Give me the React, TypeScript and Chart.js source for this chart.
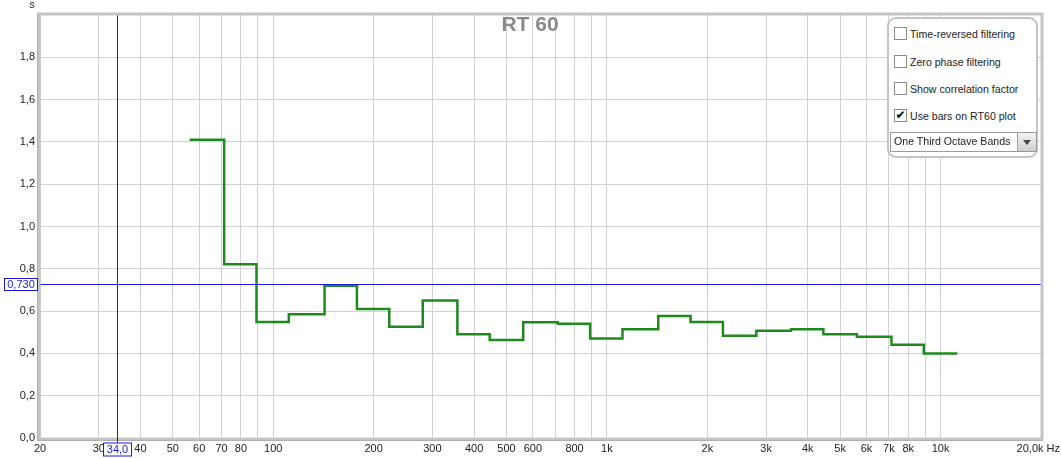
import React, { useEffect, useRef } from 'react';
import { Chart, registerables } from 'chart.js';

Chart.register(...registerables);

// One-third octave band centres (Hz) and measured RT60 (s)
const bandCenters = [63, 80, 100, 125, 160, 200, 250, 315, 400, 500, 630, 800, 1000, 1250, 1600, 2000, 2500, 3150, 4000, 5000, 6300, 8000, 10000];
const rt60Values = [1.41, 0.822, 0.548, 0.585, 0.72, 0.61, 0.526, 0.65, 0.49, 0.463, 0.547, 0.54, 0.471, 0.514, 0.577, 0.548, 0.484, 0.507, 0.514, 0.49, 0.479, 0.441, 0.399];

const yTickValues = [0, 0.2, 0.4, 0.6, 0.8, 1.0, 1.2, 1.4, 1.6, 1.8];
const xGridValues = [20, 30, 40, 50, 60, 70, 80, 90, 100, 200, 300, 400, 500, 600, 700, 800, 900, 1000, 2000, 3000, 4000, 5000, 6000, 7000, 8000, 9000, 10000, 20000];
const xLabelValues = [20, 30, 40, 50, 60, 70, 80, 100, 200, 300, 400, 500, 600, 800, 1000, 2000, 3000, 4000, 5000, 6000, 7000, 8000, 10000, 20000];

const cursorFreq = 34.0;
const cursorRt = 0.73;

const chartTitle = 'RT 60';
const yUnit = 's';
const legendOptions = ['Time-reversed filtering', 'Zero phase filtering', 'Show correlation factor', 'Use bars on RT60 plot'];
const legendChecked = [false, false, false, true];
const bandMode = 'One Third Octave Bands';

const FONT = '11px Arial, "Liberation Sans", sans-serif';
const CURSOR_COLOR = '#1a1ae0';

function fmtX(v: number): string {
  if (v === 20000) return '20,0k Hz';
  if (v >= 1000) return v / 1000 + 'k';
  return String(v);
}

const overlayPlugin = {
  id: 'overlay',
  beforeDatasetsDraw(chart: any) {
    const ctx = chart.ctx;
    ctx.save();
    ctx.fillStyle = '#8a8a8a';
    ctx.font = 'bold 21px Arial, "Liberation Sans", sans-serif';
    ctx.textAlign = 'center';
    ctx.textBaseline = 'middle';
    ctx.fillText(chartTitle, 530, 25);
    ctx.restore();
  },
  afterDraw(chart: any) {
    const ctx = chart.ctx;
    const xs = chart.scales.x;
    const ys = chart.scales.y;
    const a = chart.chartArea;
    ctx.save();
    const cx = Math.round(xs.getPixelForValue(cursorFreq)) + 0.5;
    const cy = Math.round(ys.getPixelForValue(cursorRt)) + 0.5;
    ctx.strokeStyle = CURSOR_COLOR;
    ctx.lineWidth = 1;
    ctx.beginPath();
    ctx.moveTo(cx, a.top);
    ctx.lineTo(cx, a.bottom + 5);
    ctx.stroke();
    ctx.beginPath();
    ctx.moveTo(a.left - 3, cy);
    ctx.lineTo(a.right, cy);
    ctx.stroke();

    // frame
    ctx.strokeStyle = '#c4c4c4';
    ctx.lineWidth = 3;
    ctx.strokeRect(a.left - 1, a.top - 1, a.right - a.left + 2, a.bottom - a.top + 2);
    ctx.strokeStyle = '#b0b0b0';
    ctx.lineWidth = 1;
    ctx.beginPath();
    ctx.moveTo(a.left - 2.5, a.top - 2);
    ctx.lineTo(a.left - 2.5, a.bottom + 2.5);
    ctx.lineTo(a.right + 2, a.bottom + 2.5);
    ctx.stroke();
    ctx.strokeStyle = CURSOR_COLOR;
    ctx.beginPath();
    ctx.moveTo(cx, a.bottom - 1);
    ctx.lineTo(cx, a.bottom + 5);
    ctx.stroke();

    ctx.font = FONT;
    ctx.fillStyle = '#222';
    ctx.textAlign = 'right';
    ctx.textBaseline = 'middle';
    yTickValues.forEach((v) => {
      ctx.fillText(v.toFixed(1).replace('.', ','), 35, ys.getPixelForValue(v));
    });
    ctx.textAlign = 'center';
    ctx.fillText(yUnit, 32, 5);
    xLabelValues.forEach((v) => {
      const px = xs.getPixelForValue(v);
      if (v === 20000) {
        ctx.textAlign = 'right';
        ctx.fillText(fmtX(v), 1060, 449);
      } else {
        ctx.textAlign = 'center';
        ctx.fillText(fmtX(v), px, 449);
      }
    });
    const xl = cursorFreq.toFixed(1).replace('.', ',');
    const yl = cursorRt.toFixed(3).replace('.', ',');
    ctx.strokeStyle = CURSOR_COLOR;
    ctx.lineWidth = 1;
    const bw = 28;
    ctx.fillStyle = '#fff';
    ctx.fillRect(cx - bw / 2, 443, bw, 13);
    ctx.strokeRect(cx - bw / 2, 443, bw, 13);
    ctx.fillStyle = CURSOR_COLOR;
    ctx.textAlign = 'center';
    ctx.fillText(xl, cx, 450);
    ctx.fillStyle = '#fff';
    ctx.fillRect(4.5, cy - 6, 33, 12);
    ctx.strokeRect(4.5, cy - 6, 33, 12);
    ctx.fillStyle = CURSOR_COLOR;
    ctx.fillText(yl, 21, cy + 0.5);
    ctx.restore();
  },
};

export default function App() {
  const canvasRef = useRef<HTMLCanvasElement | null>(null);

  useEffect(() => {
    if (!canvasRef.current) return;
    const edges = bandCenters.map((c) => c * Math.pow(2, -1 / 6));
    const pts = bandCenters.map((c, i) => ({ x: edges[i], y: rt60Values[i] }));
    const last = bandCenters.length - 1;
    pts.push({ x: bandCenters[last] * Math.pow(2, 1 / 6), y: rt60Values[last] });

    const chart = new Chart(canvasRef.current, {
      type: 'line',
      data: {
        datasets: [
          {
            data: pts,
            stepped: 'before',
            borderColor: '#1e8a1e',
            borderWidth: 2.5,
            pointRadius: 0,
            fill: false,
          },
        ],
      },
      options: {
        animation: false,
        responsive: false,
        maintainAspectRatio: false,
        layout: { padding: { left: 40, right: 20, top: 15, bottom: 21 } },
        plugins: { legend: { display: false }, tooltip: { enabled: false } },
        scales: {
          x: {
            type: 'logarithmic',
            min: 20,
            max: 20000,
            afterBuildTicks: (s: any) => {
              s.ticks = xGridValues.map((v) => ({ value: v }));
            },
            ticks: { display: false },
            grid: { color: '#d2d2d2', drawTicks: false, lineWidth: 1 },
            border: { display: false },
          },
          y: {
            min: 0,
            max: 2,
            afterBuildTicks: (s: any) => {
              s.ticks = yTickValues.map((v) => ({ value: v }));
            },
            ticks: { display: false },
            grid: { color: '#d2d2d2', drawTicks: false, lineWidth: 1 },
            border: { display: false },
          },
        },
      },
      plugins: [overlayPlugin],
    } as any);
    return () => chart.destroy();
  }, []);

  const rowTops = [27, 55, 82, 109];

  return (
    <div style={{ position: 'fixed', left: 0, top: 0, width: 1061, height: 459, background: '#fff', fontFamily: 'Arial, "Liberation Sans", sans-serif' }}>
      <canvas ref={canvasRef} width={1061} height={459} style={{ position: 'absolute', left: 0, top: 0 }} />
      <div
        style={{
          position: 'absolute',
          left: 887,
          top: 17,
          width: 147,
          height: 137,
          border: '2px solid #c4c4c4',
          borderRadius: 9,
          background: '#fff',
        }}
      />
      {legendOptions.map((t, i) => (
        <div key={t} style={{ position: 'absolute', left: 894, top: rowTops[i], height: 13, display: 'flex', alignItems: 'center' }}>
          <div
            style={{
              width: 11,
              height: 11,
              border: '1px solid #8c8c8c',
              background: '#fff',
              fontSize: 12,
              lineHeight: '11px',
              textAlign: 'center',
              color: '#000',
              fontWeight: 'bold',
              fontFamily: '"DejaVu Sans", sans-serif',
            }}
          >
            {legendChecked[i] ? '✔' : ''}
          </div>
          <span style={{ marginLeft: 3, fontSize: 10.6, color: '#222', whiteSpace: 'nowrap' }}>{t}</span>
        </div>
      ))}
      <div
        style={{
          position: 'absolute',
          left: 890,
          top: 132,
          width: 145,
          height: 18,
          border: '1px solid #9a9a9a',
          background: '#fff',
          boxSizing: 'content-box',
        }}
      >
        <span style={{ position: 'absolute', left: 3, top: 2, fontSize: 10.6, color: '#222', whiteSpace: 'nowrap' }}>{bandMode}</span>
        <div
          style={{
            position: 'absolute',
            right: 0,
            top: 0,
            width: 18,
            height: 18,
            borderLeft: '1px solid #a0a0a0',
            background: 'linear-gradient(#f4f4f4, #cfcfcf)',
          }}
        >
          <div
            style={{
              position: 'absolute',
              left: 5,
              top: 7,
              width: 0,
              height: 0,
              borderLeft: '4px solid transparent',
              borderRight: '4px solid transparent',
              borderTop: '5px solid #444',
            }}
          />
        </div>
      </div>
    </div>
  );
}
